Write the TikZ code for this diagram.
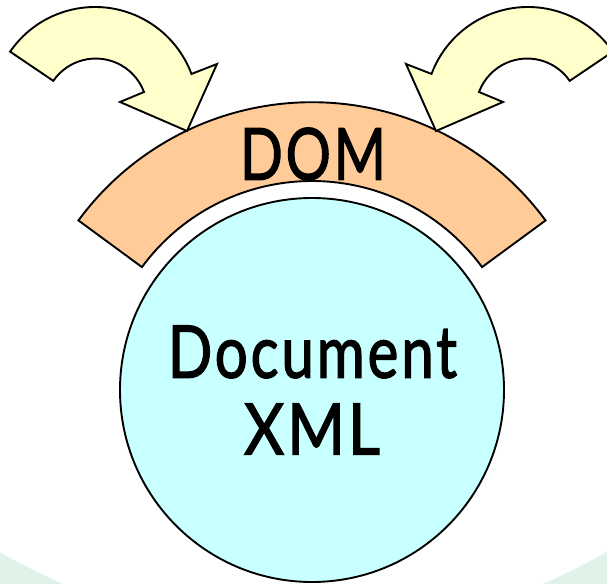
\documentclass[tikz,border=0pt]{standalone}
\usepackage{fontspec}
\setmainfont{Lato}[FakeBold=2,LetterSpace=5]
\definecolor{bgGreen}{HTML}{DFF3E8}
\definecolor{arrowYellow}{HTML}{FFFFCC}
\definecolor{domOrange}{HTML}{FFCC99}
\definecolor{docCyan}{HTML}{C8FFFF}
\tikzset{
  outlined/.style={draw=black,line width=1.9pt,line join=miter},
  label/.style={inner sep=0pt,font=\fontsize{70}{70}\selectfont,text=black},
}
\begin{document}
\begin{tikzpicture}[x=1pt,y=1pt]
\useasboundingbox (0,0) rectangle (607,584);
\begin{scope}
\clip (0,0) rectangle (607,584);
\fill[bgGreen] (0,0) rectangle (607,60);
\fill[white] (303,558) circle[radius=607];
% DOM band
\draw[outlined,fill=domOrange]
  ([shift={(312,192)}]143.7:289.8) arc[start angle=143.7,end angle=36.3,radius=289.8]
  -- ([shift={(312,192)}]36.3:211) arc[start angle=36.3,end angle=143.7,radius=211] -- cycle;
% left arrow
\draw[outlined,fill=arrowYellow]
  ([shift={(95,474)}]145.5:103) arc[start angle=145.5,end angle=20.5,radius=103]
  -- (217,520) -- (187,453) -- (120,482) -- (144,492)
  arc[start angle=20.5,end angle=145.5,radius=51.5] -- cycle;
% right arrow
\draw[outlined,fill=arrowYellow]
  ([shift={(528,474)}]34.5:103) arc[start angle=34.5,end angle=159.5,radius=103]
  -- (406,520) -- (436,453) -- (503,482) -- (479,492)
  arc[start angle=159.5,end angle=34.5,radius=51.5] -- cycle;
\node[outlined,fill=docCyan,circle,minimum size=384pt,inner sep=0pt] (doc) at (312,194) {};
\end{scope}
\node[label] (dom) at (313,430) {\resizebox{146pt}{52pt}{DOM}};
\node[label] (document) at (312.5,232) {\resizebox{289pt}{52pt}{Document}};
\node[label] (xml) at (312,155) {\resizebox{136pt}{51pt}{XML}};
\end{tikzpicture}
\end{document}
